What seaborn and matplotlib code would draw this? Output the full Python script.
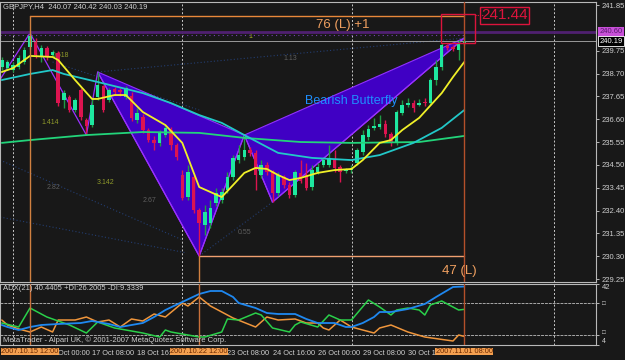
import numpy as np
import pandas as pd
import matplotlib
matplotlib.use("Agg")
import matplotlib.pyplot as plt
import matplotlib.transforms as mtrans
from matplotlib.patches import Polygon, Rectangle
import seaborn as sns

# ---------------- data ----------------
bar_idx = list(range(-5, 78))
opens = [239.00, 238.95, 238.86, 239.00, 239.23, 239.92, 240.15, 239.46, 239.87, 239.55,
         239.64, 237.48, 237.62, 237.02, 237.94, 236.56, 236.33, 237.62, 238.13, 237.48,
         237.99, 237.94, 237.62, 237.67, 236.56, 236.70, 236.10, 235.64, 235.51, 235.87,
         236.10, 235.41, 234.03, 233.02, 233.94, 232.43, 231.74, 231.83, 232.75, 232.88,
         233.34, 233.94, 234.72, 234.86, 235.18, 235.05, 234.03, 234.49, 234.17, 233.21,
         233.94, 233.57, 233.11, 234.13, 234.03, 233.48, 234.17, 234.49, 234.49, 234.72,
         234.40, 234.22, 234.26, 234.59, 235.09, 235.78, 236.20, 236.24, 236.38, 235.92,
         235.51, 236.89, 237.25, 237.34, 237.25, 237.39, 237.34, 238.40, 239.00, 239.97,
         239.92, 239.78, 240.07]
closes = [239.32, 239.23, 239.09, 239.41, 239.78, 240.42, 239.55, 239.87, 239.46, 239.69,
          237.34, 237.80, 237.02, 237.48, 236.70, 236.29, 237.25, 238.17, 237.02, 237.94,
          237.85, 237.85, 238.03, 236.66, 236.89, 236.10, 235.64, 235.51, 235.97, 236.20,
          235.41, 234.86, 232.98, 234.17, 232.43, 231.83, 232.33, 232.52, 233.21, 233.25,
          233.94, 234.82, 234.95, 235.18, 235.05, 234.03, 234.49, 234.17, 233.21, 234.03,
          233.57, 233.11, 234.17, 233.76, 233.44, 234.26, 234.40, 234.72, 234.82, 234.36,
          234.17, 234.26, 234.36, 235.18, 235.87, 236.15, 236.29, 236.38, 235.92, 235.51,
          236.93, 237.25, 237.34, 237.11, 237.34, 237.34, 238.40, 239.00, 240.01, 239.87,
          239.83, 240.10, 240.19]
highs = [239.46, 239.32, 239.23, 239.55, 239.92, 240.56, 240.33, 240.01, 239.97, 239.78,
         239.74, 237.94, 237.71, 237.57, 238.03, 236.66, 237.57, 238.77, 238.17, 238.03,
         238.08, 238.03, 238.13, 237.85, 237.11, 236.84, 236.20, 235.83, 236.10, 236.33,
         236.24, 235.51, 234.26, 234.49, 234.03, 232.52, 232.65, 232.88, 233.44, 233.44,
         234.17, 234.95, 235.41, 235.87, 235.32, 235.18, 234.72, 234.63, 234.26, 234.17,
         234.03, 233.71, 234.26, 234.72, 234.59, 234.49, 234.59, 234.82, 235.41, 235.18,
         234.49, 234.36, 234.49, 235.28, 236.10, 236.33, 236.66, 236.79, 236.56, 236.01,
         237.02, 237.48, 237.57, 237.48, 237.53, 237.57, 238.49, 239.32, 240.10, 240.06,
         240.01, 240.24, 240.42]
lows = [238.86, 238.86, 238.77, 238.91, 239.14, 239.83, 239.41, 239.23, 239.32, 239.46,
        237.21, 237.11, 236.93, 236.93, 236.56, 235.87, 236.24, 237.48, 236.93, 237.39,
        237.71, 237.67, 237.53, 236.52, 236.43, 235.97, 235.55, 235.18, 235.37, 235.78,
        235.18, 234.72, 232.88, 232.88, 232.29, 230.31, 231.28, 231.60, 232.61, 232.75,
        233.21, 233.80, 234.59, 234.72, 234.91, 233.34, 233.90, 234.03, 232.79, 233.07,
        233.44, 232.98, 233.02, 233.67, 233.34, 233.34, 234.08, 234.40, 234.40, 234.17,
        233.71, 234.13, 234.13, 234.49, 234.95, 235.64, 236.10, 236.15, 235.78, 235.37,
        235.41, 236.79, 237.16, 236.93, 237.21, 237.21, 237.25, 238.17, 238.86, 239.78,
        239.74, 239.32, 240.03]

# moving averages (read at sampled bars)
ma_fast_idx = [-5, -3, 0, 4, 5, 8, 11, 12, 15, 17, 20, 24, 27, 30, 32, 34, 36, 38, 40, 42,
               44, 46, 48, 51, 54, 57, 59, 62, 64, 66, 69, 73, 75, 77]
ma_fast = [238.77, 238.95, 239.51, 239.46, 239.32, 238.40, 237.53, 237.53, 237.71, 237.71,
           236.93, 236.33, 235.51, 233.48, 233.25, 233.02, 233.57, 234.13, 234.36, 234.31,
           234.03, 233.80, 233.90, 234.13, 234.26, 234.31, 234.72, 235.51, 235.64, 236.10,
           236.66, 237.80, 238.54, 239.23]
ma_mid_idx = [-5, 0, 4, 6, 12, 20, 25, 30, 34, 38, 44, 50, 57, 62, 68, 73, 77]
ma_mid = [238.40, 238.68, 238.86, 238.68, 238.31, 237.80, 237.34, 236.79, 236.43, 235.87,
          235.05, 234.82, 234.72, 234.95, 235.51, 236.20, 237.02]
ma_slow_idx = [-5, 0, 10, 20, 30, 38, 48, 57, 69, 77]
ma_slow = [235.51, 235.64, 235.87, 236.01, 235.97, 235.74, 235.55, 235.51, 235.55, 235.83]

# zigzag & harmonic pattern pivots (bar index, price)
zz_idx = [-5.5, 0, 10, 12, 30, 38, 43, 77]
zz_price = [238.35, 240.56, 235.87, 238.77, 230.31, 235.87, 232.79, 240.33]
pat_idx = [12, 30, 38, 43, 77]          # X A B C D
pat_price = [238.77, 230.31, 235.87, 232.79, 240.33]

# ADX(21)
adx_idx = [-5, -4, -2, 0, 2, 5, 9, 11, 14, 16, 20, 22, 24, 27, 30, 32, 34, 36, 37, 40, 42,
           44, 47, 49, 51, 54, 56, 57, 59, 61, 62, 64, 67, 70, 72, 75, 77]
adx_val = [16.46, 15.21, 13.34, 15.21, 16.46, 17.08, 17.70, 18.95, 17.08, 15.21, 17.70, 21.44,
           25.80, 30.79, 35.77, 37.64, 37.64, 33.90, 30.16, 27.05, 23.93, 23.31, 23.31, 20.20,
           17.70, 17.70, 15.21, 15.21, 17.70, 21.44, 24.56, 24.56, 26.42, 29.54, 33.90, 40.13,
           40.44]
pdi_idx = [-5, -2, 0, 3, 7, 10, 12, 15, 20, 23, 24, 25, 28, 30, 31, 34, 35, 37, 40, 41, 43,
           46, 47, 48, 51, 53, 55, 57, 60, 62, 64, 65, 67, 69, 70, 71, 73, 76, 77]
pdi_val = [17.70, 15.21, 27.05, 21.44, 16.46, 11.47, 18.33, 14.59, 11.47, 8.98, 13.34, 12.10,
           10.23, 8.98, 8.98, 12.10, 20.20, 19.57, 23.93, 22.69, 14.59, 12.10, 16.46, 18.33,
           15.21, 22.69, 19.57, 19.57, 32.03, 27.67, 22.69, 25.80, 27.05, 25.80, 22.69, 28.92,
           31.41, 25.80, 26.20]
mdi_idx = [-5, -4, -2, 0, 2, 4, 5, 8, 10, 12, 14, 16, 18, 20, 22, 24, 27, 28, 30, 32, 36, 40,
           42, 44, 47, 49, 51, 52, 53, 55, 57, 59, 61, 62, 64, 67, 70, 75, 76, 77]
mdi_val = [19.57, 16.46, 13.97, 12.10, 15.21, 12.10, 19.57, 19.57, 21.44, 18.33, 19.57, 15.21,
           20.20, 18.95, 23.31, 21.44, 30.16, 28.29, 33.90, 28.29, 20.82, 15.21, 21.44, 19.57,
           20.20, 17.70, 17.70, 14.59, 13.34, 19.57, 15.21, 13.34, 11.47, 14.59, 16.46, 12.10,
           8.98, 6.49, 10.23, 9.33]

price_ticks = [241.85, 239.75, 238.70, 237.65, 236.60, 235.55, 234.50, 233.45, 232.40,
               231.35, 230.30, 229.25]
time_tick_idx = [5, 11, 19, 35, 43, 51, 59, 67]
time_tick_lbl = ["Oct 00:00", "17 Oct 08:00", "18 Oct 16:0", "23 Oct 08:00",
                 "24 Oct 16:00", "26 Oct 00:00", "29 Oct 08:00", "30 Oct 16"]
hl_idx = [0, 30, 77]
hl_lbl = ["2007.10.15 12:00", "2007.10.22 12:00", "2007.11.01 08:00"]
sep_idx = [-3, 27, 57.1, 92.9]

fib_lines = [((12, 238.77), (77, 240.33)), ((4, 239.23), (30, 237.02)),
             ((-5.3, 234.72), (27.1, 231.04)), ((-5.3, 232.10), (27.8, 230.45)),
             ((30, 230.31), (43, 232.79))]
fib_lbl = ["1.414", "2.82", "3.142", "2.67", "0.55", "1.13", "2.61", "1", "0.618"]
fib_lbl_idx = [2.1, 3.0, 11.9, 19.9, 36.9, 44.9, 58.0, 38.7, 3.9]
fib_lbl_price = [236.43, 233.44, 233.67, 232.88, 231.37, 239.41, 237.94, 240.38, 239.55]
fib_lbl_col = ["#8f9a2a", "#5e5e5e", "#8f9a2a", "#5e5e5e", "#5e5e5e", "#5e5e5e", "#5e5e5e",
               "#a8b020", "#8f9a2a"]

# ---------------- style ----------------
BG = "#181818"
GRID = "#b8b8b8"
TXT = "#d0d0d0"
sns.set_theme(style="dark", rc={"axes.facecolor": BG, "figure.facecolor": BG})
plt.rcParams["font.family"] = ["Liberation Sans Narrow", "Liberation Sans", "DejaVu Sans"]

fig = plt.figure(figsize=(6.25, 3.6), dpi=100)
W, H = 625.0, 360.0
ax = fig.add_axes([0, 1 - 282 / H, 596 / W, 280 / H])
adx = fig.add_axes([0, 1 - 345 / H, 596 / W, 61 / H])

BW = 5.64
xlim = (-30 / BW, 566 / BW)
for a in (ax, adx):
    a.set_facecolor(BG)
    a.set_xlim(*xlim)
    for s in a.spines.values():
        s.set_color(GRID)
        s.set_linewidth(0.8)
    a.grid(False)
ax.set_ylim(229.114, 241.988)
adx.set_ylim(4, 42)

# separators
for a in (ax, adx):
    for s in sep_idx:
        a.axvline(s, color="#c8c8c8", lw=0.7, ls=(0, (2, 2)), zorder=0.5)

# pattern triangles
X, A, B, C, D = list(zip(pat_idx, pat_price))
for tri in ([X, A, B], [B, C, D]):
    ax.add_patch(Polygon(tri, closed=True, facecolor="#4000c4", edgecolor="#9030ff",
                         lw=0.8, zorder=1))

# fib dotted lines
for (p0, p1) in fib_lines:
    ax.plot([p0[0], p1[0]], [p0[1], p1[1]], color="#233d70", lw=0.8, ls=(0, (1, 2)), zorder=0.8)
for t, xi, yp, c in zip(fib_lbl, fib_lbl_idx, fib_lbl_price, fib_lbl_col):
    ax.text(xi, yp, t, color=c, fontsize=5, ha="left", va="center", zorder=0.9)

# zigzag
ax.plot(zz_idx, zz_price, color="#9a30ff", lw=0.9, zorder=1.2)

# candles
up_body, up_wick = "#1ee8a0", "#1f9a45"
dn_body, dn_wick = "#dc1450", "#dc1450"
cols_b, cols_w, bottoms, heights = [], [], [], []
for o, c in zip(opens, closes):
    up = c >= o
    cols_b.append(up_body if up else dn_body)
    cols_w.append(up_wick if up else dn_wick)
    bottoms.append(min(o, c))
    heights.append(max(abs(c - o), 0.04))
ax.vlines(bar_idx, lows, highs, colors=cols_w, lw=1.0, zorder=2)
ax.bar(bar_idx, heights, bottom=bottoms, width=0.62, color=cols_b, linewidth=0, zorder=2.1)

# moving averages
sns.lineplot(x=ma_slow_idx, y=ma_slow, ax=ax, color="#22d47a", lw=1.3, zorder=3, estimator=None)
sns.lineplot(x=ma_mid_idx, y=ma_mid, ax=ax, color="#22c8c8", lw=1.3, zorder=3.1, estimator=None)
sns.lineplot(x=ma_fast_idx, y=ma_fast, ax=ax, color="#f0f028", lw=1.3, zorder=3.2, estimator=None)

# horizontal lines
ax.axhline(240.61, color="#4f2070", lw=2.0, zorder=1.5)
ax.plot([xlim[0], 77], [240.47, 240.47], color="#7a40b8", lw=0.8, ls=(0, (1, 3)), zorder=1.5)
ax.axhline(240.19, color="#9a9a9a", lw=0.7, zorder=1.5)
ax.plot([0, 77], [241.34, 241.34], color="#e8883a", lw=1.0, zorder=4)
ax.plot([30, 77], [230.31, 230.31], color="#f0a070", lw=1.0, zorder=4)
ax.plot([0, 0], [229.114, 241.34], color="#d08040", lw=1.0, zorder=4)
ax.plot([30, 30], [229.114, 230.31], color="#d08040", lw=1.0, zorder=4)
ax.axvline(77, color="#b4502a", lw=1.0, zorder=4)
for a_i in hl_idx:
    adx.axvline(a_i, color="#c8703a" if a_i < 77 else "#b4502a", lw=1.0, zorder=4)

# red rectangle + target label
ax.add_patch(Rectangle((72.9, 240.10), 6.0, 1.34, fill=False, edgecolor="#dc143c", lw=1.0, zorder=5))
ax.plot([78.9, 80.4], [241.39, 241.39], color="#dc143c", lw=0.8, ls=(0, (1, 1)), zorder=5)
ax.text(84.2, 241.37, "241.44", color="#dc143c", fontsize=11, ha="center", va="center",
        family=["Liberation Sans"], zorder=6,
        bbox=dict(boxstyle="square,pad=0.08", facecolor="none", edgecolor="#dc143c", lw=1.0))

ax.text(55.5, 240.93, "76 (L) +1", color="#f0a060", fontsize=9.5, ha="center", va="center",
        family=["Liberation Sans"], zorder=6)
ax.text(76.1, 229.62, "47 (L)", color="#f0a060", fontsize=9.5, ha="center", va="center",
        family=["Liberation Sans"], zorder=6)
ax.text(56.9, 237.44, "Bearish Butterfly", color="#1e8fff", fontsize=9, ha="center",
        va="center", family=["Liberation Sans"], zorder=6)

ax.text(3 / 596, 1 - 5 / 280, "GBPJPY,H4  240.07 240.42 240.03 240.19", transform=ax.transAxes,
        color=TXT, fontsize=5.5, ha="left", va="center", zorder=6)

# right price axis
ax.yaxis.tick_right()
ax.set_yticks(price_ticks)
ax.set_yticklabels([f"{v:.2f}" for v in price_ticks])
ax.tick_params(axis="y", colors=GRID, labelcolor=TXT, labelsize=5.5, length=2, width=0.7, pad=2)
ax.tick_params(axis="x", bottom=False, labelbottom=False)
ax.set_xlabel("")
ax.set_ylabel("")
tr = mtrans.blended_transform_factory(ax.transAxes, ax.transData)
ax.text(1.006, 240.61, "240.60", transform=tr, color="#5a1a70", fontsize=5.5, ha="left",
        va="center", zorder=7, bbox=dict(boxstyle="square,pad=0.15", facecolor="#c850d8",
                                         edgecolor="none"))
ax.text(1.006, 240.19, "240.19", transform=tr, color="#ffffff", fontsize=5.5, ha="left",
        va="center", zorder=7, bbox=dict(boxstyle="square,pad=0.15", facecolor="#000000",
                                         edgecolor="#ffffff", lw=0.6))

# ---------------- ADX panel ----------------
for lv in (30, 10):
    adx.axhline(lv, color="#a8a8a8", lw=0.7, ls=(0, (3, 1)), zorder=0.5)
sns.lineplot(x=mdi_idx, y=mdi_val, ax=adx, color="#f0963c", lw=1.1, zorder=3, estimator=None)
sns.lineplot(x=pdi_idx, y=pdi_val, ax=adx, color="#2ad04a", lw=1.1, zorder=3.1, estimator=None)
sns.lineplot(x=adx_idx, y=adx_val, ax=adx, color="#1f88f0", lw=1.3, zorder=3.2, estimator=None)

adx.text(3 / 596, 1 - 5 / 61, "ADX(21) 40.4405 +DI:26.2005 -DI:9.3339", transform=adx.transAxes,
         color=TXT, fontsize=5.5, ha="left", va="center", zorder=6)
adx.text(3 / 596, 5 / 61, "MetaTrader - Alpari UK, \u00a9 2001-2007 MetaQuotes Software Corp.",
         transform=adx.transAxes, color=TXT, fontsize=5.5, ha="left", va="center", zorder=6)

adx.yaxis.tick_right()
adx.set_yticks([42, 30, 10, 4])
adx.set_yticklabels(["42", "\u25a1", "\u25a1", "4"])
adx.tick_params(axis="y", colors=GRID, labelcolor=TXT, labelsize=5.5, length=2, width=0.7, pad=2)
ylbls = adx.get_yticklabels()
ylbls[0].set_va("top")
ylbls[1].set_fontsize(4.5)
ylbls[2].set_fontsize(4.5)
ylbls[2].set_va("bottom")
ylbls[-1].set_va("bottom")
ylbls[-1].set_fontsize(5)
adx.set_ylabel("")
adx.set_xlabel("")
adx.set_xticks(time_tick_idx)
adx.set_xticklabels(time_tick_lbl, ha="left")
adx.tick_params(axis="x", colors=GRID, labelcolor=TXT, labelsize=5.3, length=2, width=0.7, pad=1.5)
trx = mtrans.blended_transform_factory(adx.transData, adx.transAxes)
for a_i, lbl in zip(hl_idx, hl_lbl):
    adx.text(a_i, -0.105, lbl, transform=trx, color="#6a2800", fontsize=5.3, ha="center",
             va="center", zorder=10, clip_on=False,
             bbox=dict(boxstyle="square,pad=0.05", facecolor="#f4a050", edgecolor="none"))

fig.savefig("out.png", dpi=100, facecolor=BG)
